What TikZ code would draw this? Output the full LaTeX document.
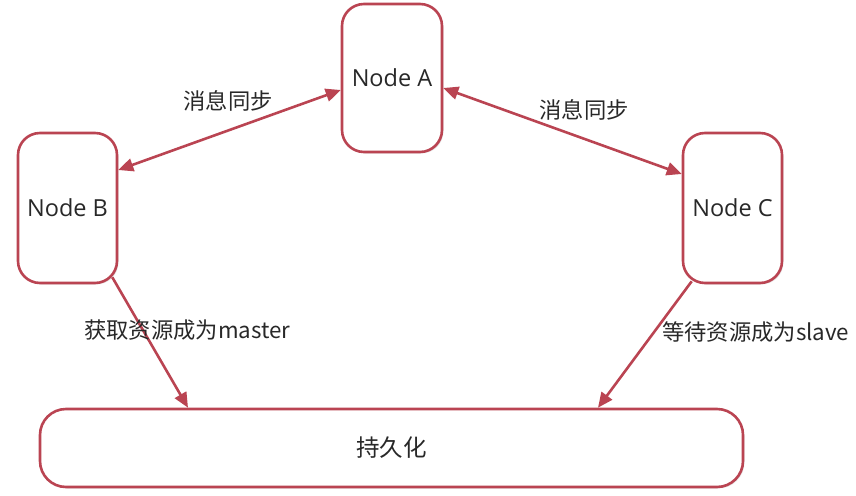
\documentclass[tikz,border=0pt]{standalone}
\usepackage{fontspec}
\setmainfont{Open Sans}
\newfontfamily\cjk{Noto Sans CJK SC}
\usetikzlibrary{arrows.meta,calc,shadows}
\definecolor{edge}{RGB}{186,68,82}
\definecolor{txt}{RGB}{40,40,40}
\tikzset{
  box/.style={draw=edge, line width=2.6pt, rounded corners=22pt, fill=white,
    drop shadow={opacity=0.18, shadow xshift=1.5pt, shadow yshift=-1.5pt},
    text=txt, font=\fontsize{23.5}{27}\selectfont, inner sep=0pt},
  arr/.style={draw=edge, line width=2.6pt, -{Triangle[length=15pt,width=13pt]}},
  darr/.style={draw=edge, line width=2.6pt, {Triangle[length=15pt,width=13pt]}-{Triangle[length=15pt,width=13pt]}},
  lbl/.style={text=txt, font=\cjk\fontsize{22.3}{26}\selectfont, inner sep=0pt}
}
\begin{document}
\begin{tikzpicture}[x=1pt,y=-1pt]
\useasboundingbox (0,0) rectangle (856,495);
\node[box, minimum width=100pt, minimum height=148pt] (A) at (392,78) {Node A};
\node[box, minimum width=99pt, minimum height=150pt] (B) at (67.5,208) {Node B};
\node[box, minimum width=99pt, minimum height=150pt] (C) at (732.5,208) {Node C};
\node[box, minimum width=703pt, minimum height=78pt, rounded corners=26pt] (P) at (391.5,448) {\cjk 持久化};

\draw[darr] (A.west |- 0,90) -- (B.east |- 0,170);
\draw[darr] (A.east |- 0,88) -- (C.west |- 0,174);
\draw[arr] ($(B.south east)+(-6,-7)$) -- (P.north -| 188,0);
\draw[arr] ($(C.south west)+(10,-3)$) -- (P.north -| 598,0);

\node[lbl] (l1) at (228,101) {消息同步};
\node[lbl] (l2) at (584,110) {消息同步};
\node[lbl, anchor=west] (l3) at (84,330) {获取资源成为master};
\node[lbl, anchor=west] (l4) at (662,332) {等待资源成为slave};
\end{tikzpicture}
\end{document}
